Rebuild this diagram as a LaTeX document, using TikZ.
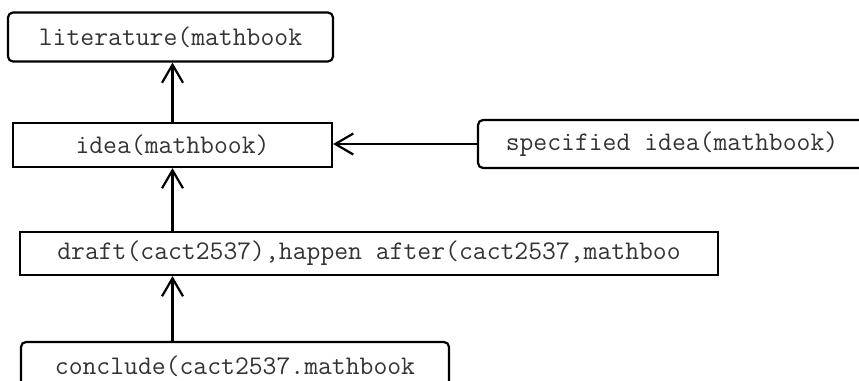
\documentclass[tikz,border=0pt]{standalone}
\usetikzlibrary{arrows.meta}
\tikzset{
  box/.style={draw, line width=2.2pt, inner sep=0pt, anchor=center,
    font=\fontsize{26.9}{30}\selectfont\ttfamily, text=black!80},
  roundbox/.style={box, rounded corners=5pt},
  flow/.style={line width=2.2pt, -{Straight Barb[length=18pt,width=21pt,line width=2.2pt]}}
}
\begin{document}
\begin{tikzpicture}[x=1pt,y=-1pt]
  \useasboundingbox (0,0) rectangle (859,380);
  \clip (0,0) rectangle (859,380);
  \node[roundbox, minimum width=325pt, minimum height=49pt] (lit) at (170.5,37) {literature(mathbook};
  \node[box, minimum width=319pt, minimum height=44pt] (idea) at (172.5,145) {idea(mathbook)};
  \node[roundbox, minimum width=388pt, minimum height=48pt] (spec) at (672,144) {specified idea(mathbook)};
  \node[box, minimum width=698pt, minimum height=43pt] (draft) at (369,253.5) {draft(cact2537),happen after(cact2537,mathboo};
  \node[roundbox, minimum width=428pt, minimum height=48pt] (concl) at (235,366) {conclude(cact2537.mathbook};
  \draw[flow] (idea.north) -- (idea.north |- lit.south);
  \draw[flow] (spec.west) -- (spec.west -| idea.east);
  \draw[flow] (idea.south |- draft.north) -- (idea.south);
  \draw[flow] (idea.south |- concl.north) -- (idea.south |- draft.south);
\end{tikzpicture}
\end{document}
